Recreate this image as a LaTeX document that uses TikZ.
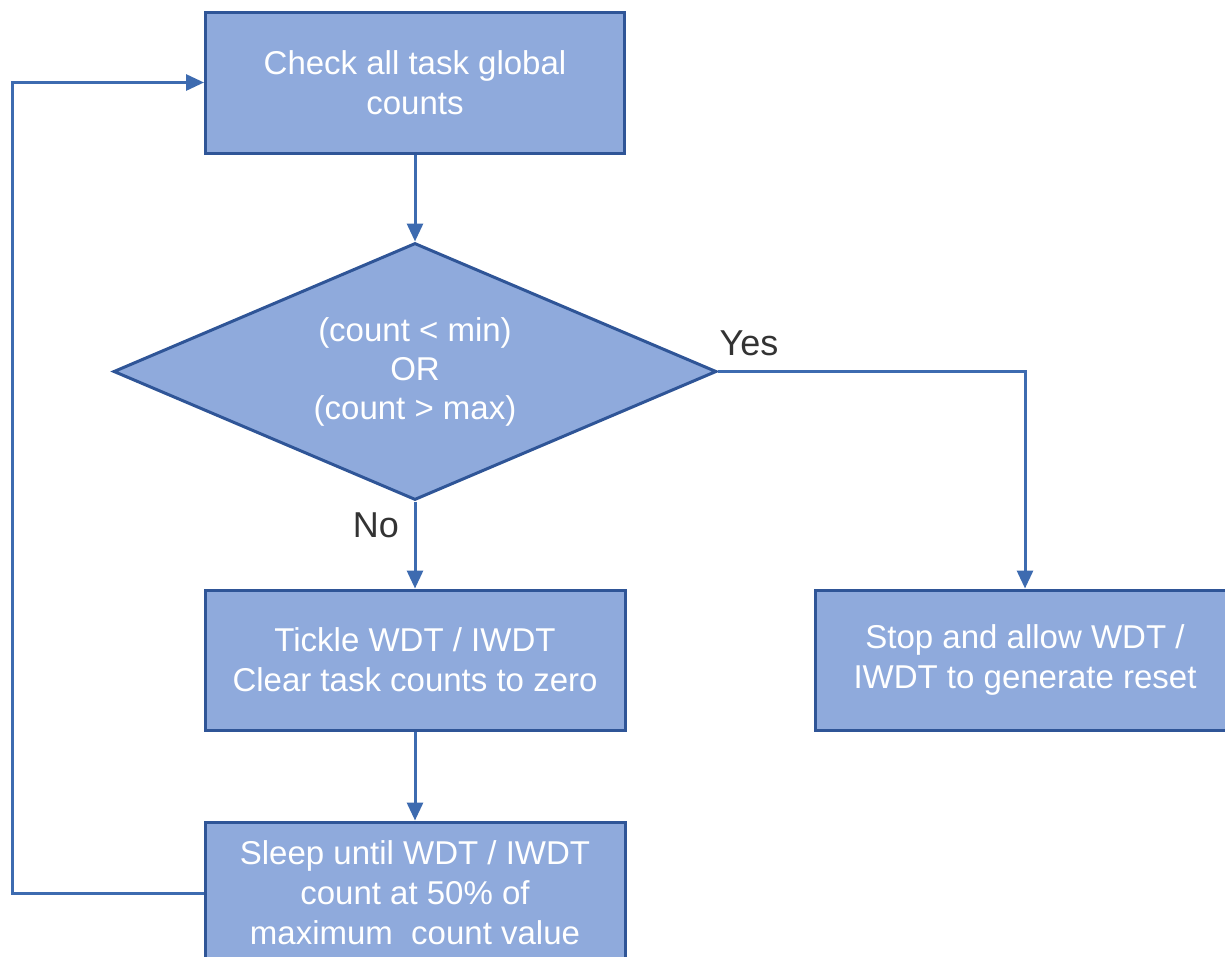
\documentclass[tikz,border=0pt]{standalone}
\usepackage{fontspec}
\setmainfont{Liberation Sans}
\usetikzlibrary{shapes.geometric,arrows.meta}
\definecolor{boxfill}{HTML}{8FAADC}
\definecolor{boxline}{HTML}{2F5597}
\definecolor{flow}{HTML}{3D6BB0}
\definecolor{labeltext}{HTML}{333333}
\begin{document}
\begin{tikzpicture}[x=1pt,y=-1pt,
  process/.style={draw=boxline, line width=3pt, fill=boxfill, text=white,
    align=center, inner sep=0pt, font=\fontsize{33}{40}\selectfont},
  decision/.style={diamond, shape aspect=2.35, draw=boxline, line width=3pt,
    fill=boxfill, text=white, align=center, inner sep=0pt,
    minimum width=603pt, minimum height=257pt,
    font=\fontsize{33}{39}\selectfont},
  flowline/.style={draw=flow, line width=3pt, -{Triangle[length=18pt,width=16pt]}},
  branch/.style={text=labeltext, font=\fontsize{36}{40}\selectfont}
]
\useasboundingbox (0,0) rectangle (1225,956);
\clip (0,0) rectangle (1225,956);

% steps of the watchdog loop
\node[process, minimum width=419pt, minimum height=141pt] (check) at (415,82.5)
  {Check all task global\\counts};
\node[decision] (test) at (415,371.5)
  {(count < min)\\OR\\(count > max)};
\node[process, minimum width=420pt, minimum height=140pt] (tickle) at (415,660)
  {Tickle WDT / IWDT\\Clear task counts to zero};
\node[process, minimum width=420pt, minimum height=140pt] (stop) at (1025,660)
  {Stop and allow WDT /\\IWDT to generate reset};
\node[process, minimum width=420pt, minimum height=142pt] (sleep) at (415,893)
  {Sleep until WDT / IWDT\\count at 50\% of\\maximum\ \ count value};

% connectors
\draw[flowline] (check) -- (test);
\draw[flowline] (test.south) -- (tickle.north);
\draw[flowline] (tickle) -- (sleep);
\draw[flowline] (test.east) -| (stop.north);
\coordinate (loop) at (12,500);
\draw[flowline] (sleep.west) -| (loop) |- (check.west);

% branch labels
\node[branch] (yes) at (749,343) {Yes};
\node[branch] (no) at (376,525) {No};
\end{tikzpicture}
\end{document}
